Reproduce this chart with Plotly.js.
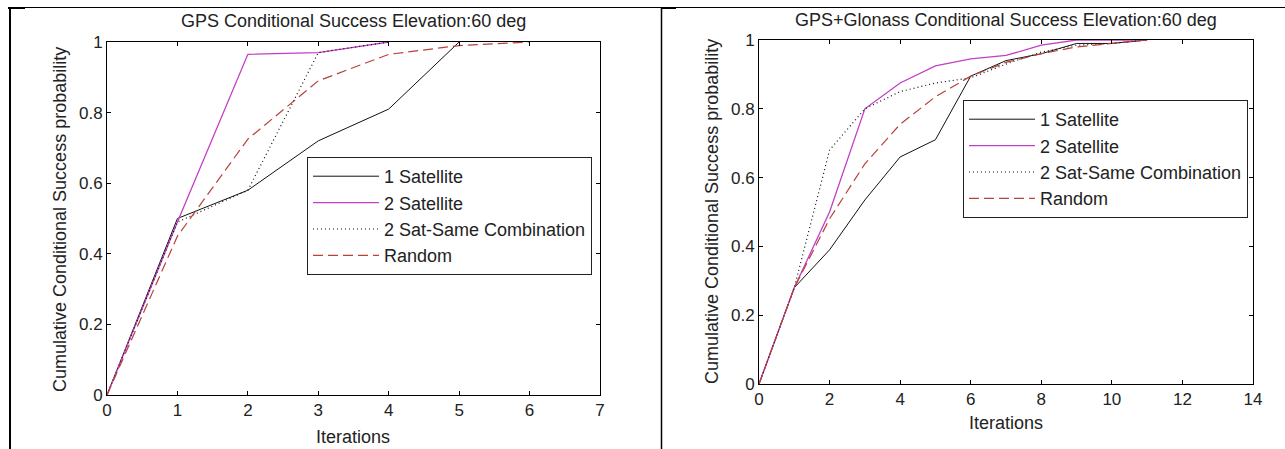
<!DOCTYPE html>
<html>
<head>
<meta charset="utf-8">
<script src="https://cdn.plot.ly/plotly-3.0.1.min.js"></script>
<style>html,body{margin:0;padding:0;background:#fff;}#chart{width:1285px;height:449px;}</style>
</head>
<body>
<div id="chart"></div>
<script>
// ---- Data ----
const seriesNames = ["1 Satellite", "2 Satellite", "2 Sat-Same Combination", "Random"];

// Left: GPS
const gpsIter1 = [0, 1, 2, 3, 4, 5];
const gps1Sat = [0, 0.50, 0.58, 0.72, 0.81, 1.00];
const gpsIter2 = [0, 1, 2, 3, 4];
const gps2Sat = [0, 0.49, 0.965, 0.97, 1.00];
const gpsIterSame = [0, 1, 2, 3, 4];
const gpsSame = [0, 0.49, 0.58, 0.97, 1.00];
const gpsIterRand = [0, 1, 2, 3, 4, 5, 6];
const gpsRandom = [0, 0.45, 0.725, 0.89, 0.965, 0.99, 1.00];

// Right: GPS+Glonass
const glIter = [0, 1, 2, 3, 4, 5, 6, 7, 8, 9, 10, 11];
const gl1Sat = [0, 0.28, 0.39, 0.535, 0.66, 0.71, 0.895, 0.94, 0.96, 0.99, 0.99, 1.00];
const gl2Sat = [0, 0.28, 0.50, 0.80, 0.875, 0.925, 0.945, 0.955, 0.985, 1.00, 1.00, 1.00];
const glSame = [0, 0.28, 0.68, 0.80, 0.85, 0.875, 0.89, 0.93, 0.965, 0.985, 0.99, 1.00];
const glRandom = [0, 0.28, 0.48, 0.64, 0.755, 0.835, 0.895, 0.935, 0.96, 0.98, 0.99, 1.00];

const leftTicksX = [0, 1, 2, 3, 4, 5, 6, 7];
const rightTicksX = [0, 2, 4, 6, 8, 10, 12, 14];
const ticksY = [0, 0.2, 0.4, 0.6, 0.8, 1];
const ticksYText = ["0", "0.2", "0.4", "0.6", "0.8", "1"];

const titleLeft = "GPS Conditional Success Elevation:60 deg";
const titleRight = "GPS+Glonass Conditional Success Elevation:60 deg";
const xLabel = "Iterations";
const yLabel = "Cumulative Conditional Success probability";

// ---- Styles ----
const W = 1285, H = 449;
const FONT = "Liberation Sans, Arial, Helvetica, sans-serif";
const styles = [
  {color: "#111111", width: 1, dash: "solid"},
  {color: "#c23fc6", width: 1.3, dash: "solid"},
  {color: "#111111", width: 1.2, dash: "1px,3px"},
  {color: "#b8413a", width: 1.2, dash: "10px,5px"}
];
const fx = p => p / W;
const fy = p => 1 - p / H;

function tr(x, y, i, xa, ya, leg) {
  return {
    x: x, y: y, type: "scatter", mode: "lines", name: seriesNames[i],
    xaxis: xa, yaxis: ya, legend: leg, showlegend: true,
    line: {color: styles[i].color, width: styles[i].width, dash: styles[i].dash},
    hoverinfo: "skip"
  };
}

const data = [
  tr(gpsIter1, gps1Sat, 0, "x", "y", "legend"),
  tr(gpsIter2, gps2Sat, 1, "x", "y", "legend"),
  tr(gpsIterSame, gpsSame, 2, "x", "y", "legend"),
  tr(gpsIterRand, gpsRandom, 3, "x", "y", "legend"),
  tr(glIter, gl1Sat, 0, "x2", "y2", "legend2"),
  tr(glIter, gl2Sat, 1, "x2", "y2", "legend2"),
  tr(glIter, glSame, 2, "x2", "y2", "legend2"),
  tr(glIter, glRandom, 3, "x2", "y2", "legend2")
];

const axisBase = {
  showline: true, linecolor: "#000", linewidth: 1, mirror: "ticks",
  ticks: "inside", ticklen: 4, tickcolor: "#000", tickwidth: 1,
  showgrid: false, zeroline: false, fixedrange: true,
  tickfont: {family: FONT, size: 17, color: "#222"}
};

const legendBase = {
  xanchor: "left", yanchor: "top", bgcolor: "#fff",
  bordercolor: "#222", borderwidth: 1,
  font: {family: FONT, size: 18, color: "#222"},
  traceorder: "normal", itemwidth: 66
};

const ann = (text, x, y, opts) => Object.assign({
  text: text, xref: "paper", yref: "paper", x: fx(x), y: fy(y),
  xanchor: "center", yanchor: "middle", showarrow: false,
  font: {family: FONT, size: 18, color: "#222"}
}, opts || {});

const layout = {
  width: W, height: H,
  margin: {l: 0, r: 0, t: 0, b: 0},
  paper_bgcolor: "#fff", plot_bgcolor: "#fff",
  xaxis: Object.assign({}, axisBase, {domain: [fx(107), fx(600)], range: [0, 7], tickvals: leftTicksX, anchor: "y"}),
  yaxis: Object.assign({}, axisBase, {domain: [fy(395), fy(42)], range: [0, 1], tickvals: ticksY, ticktext: ticksYText, anchor: "x"}),
  xaxis2: Object.assign({}, axisBase, {domain: [fx(759), fx(1253)], range: [0, 14], tickvals: rightTicksX, anchor: "y2"}),
  yaxis2: Object.assign({}, axisBase, {domain: [fy(384), fy(40)], range: [0, 1], tickvals: ticksY, ticktext: ticksYText, anchor: "x2"}),
  legend: Object.assign({}, legendBase, {x: fx(307), y: fy(157)}),
  legend2: Object.assign({}, legendBase, {x: fx(963), y: fy(100)}),
  annotations: [
    ann(titleLeft, 353, 21),
    ann(titleRight, 1006, 20),
    ann(xLabel, 353, 437),
    ann(xLabel, 1006, 423),
    ann(yLabel, 60, 220, {textangle: -90}),
    ann(yLabel, 712, 212, {textangle: -90})
  ],
  shapes: [
    {type: "line", xref: "paper", yref: "paper", x0: fx(8), x1: 1, y0: fy(7.5), y1: fy(7.5), line: {color: "#000", width: 1}},
    {type: "line", xref: "paper", yref: "paper", x0: fx(8), x1: fx(25), y0: fy(8), y1: fy(8), line: {color: "#000", width: 2}},
    {type: "line", xref: "paper", yref: "paper", x0: fx(10), x1: fx(10), y0: fy(7), y1: 0, line: {color: "#000", width: 2}},
    {type: "line", xref: "paper", yref: "paper", x0: fx(661.5), x1: fx(661.5), y0: fy(7), y1: 0, line: {color: "#000", width: 1.5}},
    {type: "line", xref: "paper", yref: "paper", x0: fx(661), x1: fx(676), y0: fy(8), y1: fy(8), line: {color: "#000", width: 2}}
  ]
};

Plotly.newPlot("chart", data, layout, {staticPlot: true, displayModeBar: false});
</script>
</body>
</html>
